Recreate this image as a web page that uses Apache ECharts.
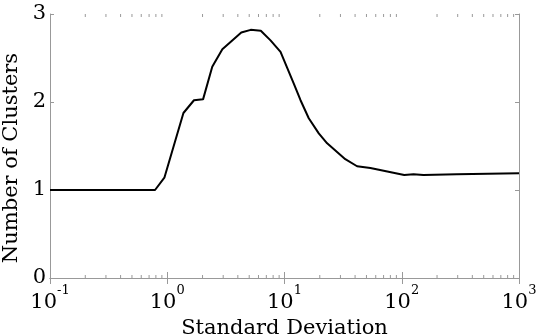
<!DOCTYPE html>
<html><head><meta charset="utf-8">
<script src="https://cdn.jsdelivr.net/npm/echarts@6/dist/echarts.min.js"></script>
<style>html,body{margin:0;padding:0;background:#fff}#c{width:539px;height:335px}</style>
</head><body><div id="c"></div>
<script>
var stdDev = [0.1, 0.787, 0.945, 1.374, 1.69, 2.02, 2.42, 2.95, 4.28, 5.15, 6.28, 7.6, 9.25, 12.0, 13.7, 16.1, 19.6, 23.1, 33.0, 41.6, 54, 105, 126, 153, 295, 1000];
var numClusters = [1.0, 1.0, 1.14, 1.875, 2.02, 2.03, 2.40, 2.60, 2.79, 2.82, 2.81, 2.70, 2.57, 2.21, 2.02, 1.815, 1.644, 1.53, 1.35, 1.27, 1.25, 1.17, 1.18, 1.17, 1.18, 1.19];
var xMinorTicks = [0.2,0.3,0.4,0.5,0.6,0.7,0.8,0.9,2,3,4,5,6,7,8,9,20,30,40,50,60,70,80,90,200,300,400,500,600,700,800,900];
var yTicks = [0, 1, 2, 3];

var FONT = 'DejaVu Serif';
var AX = '#999999';
var chart = echarts.init(document.getElementById('c'));
function expLabel(v){
  var e = Math.round(Math.log10(v));
  return '{b|10}{s|' + e + '}';
}
var axisRich = {
  b: {fontFamily: FONT, fontSize: 21, color: '#000', padding: [8,0,0,0]},
  s: {fontFamily: FONT, fontSize: 13, color: '#000', verticalAlign: 'top'}
};
chart.setOption({
  animation: false,
  grid: {left: 50, right: 20, top: 14, bottom: 57, outerBoundsMode: 'none', containLabel: false},
  xAxis: [{
    type: 'log', logBase: 10, min: 0.1, max: 1000, position: 'bottom',
    axisLine: {lineStyle: {color: AX, width: 1}},
    axisTick: {inside: true, length: 6, lineStyle: {color: AX}},
    splitLine: {show: false},
    axisLabel: {formatter: expLabel, rich: axisRich, margin: 6},
    name: 'Standard Deviation', nameLocation: 'middle', nameGap: 35,
    nameTextStyle: {fontFamily: FONT, fontSize: 21, color: '#000'}
  }, {
    type: 'log', logBase: 10, min: 0.1, max: 1000, position: 'top',
    axisLine: {lineStyle: {color: AX, width: 1}},
    axisTick: {inside: true, length: 6, lineStyle: {color: AX}},
    splitLine: {show: false}, axisLabel: {show: false}
  }],
  yAxis: [{
    type: 'value', min: 0, max: 3, interval: 1, position: 'left',
    axisLine: {show: true, lineStyle: {color: AX, width: 1}},
    axisTick: {show: true, inside: true, length: 4, lineStyle: {color: AX}},
    splitLine: {show: false},
    axisLabel: {fontFamily: FONT, fontSize: 21, color: '#000', margin: 4},
    name: 'Number of Clusters', nameLocation: 'middle', nameGap: 24,
    nameTextStyle: {fontFamily: FONT, fontSize: 21, color: '#000', padding: [0, 0, 0, -24]}
  }, {
    type: 'value', min: 0, max: 3, interval: 1, position: 'right',
    axisLine: {show: true, lineStyle: {color: AX, width: 1}},
    axisTick: {show: true, inside: true, length: 4, lineStyle: {color: AX}},
    splitLine: {show: false}, axisLabel: {show: false}
  }],
  series: [{
    type: 'line',
    data: stdDev.map(function(x, i){ return [x, numClusters[i]]; }),
    showSymbol: false, symbol: 'none',
    lineStyle: {color: '#000', width: 2},
    z: 5
  }, {
    type: 'custom',
    data: xMinorTicks.map(function(v){ return [v, 0]; }),
    silent: true,
    renderItem: function(params, api){
      var cs = params.coordSys;
      var x = api.coord([api.value(0), 0])[0];
      var yb = cs.y + cs.height, yt = cs.y;
      var st = {stroke: AX, lineWidth: 1};
      return {type: 'group', children: [
        {type: 'line', shape: {x1: x, y1: yb, x2: x, y2: yb - 3}, style: st},
        {type: 'line', shape: {x1: x, y1: yt, x2: x, y2: yt + 3}, style: st}
      ]};
    }
  }]
});
</script></body></html>
